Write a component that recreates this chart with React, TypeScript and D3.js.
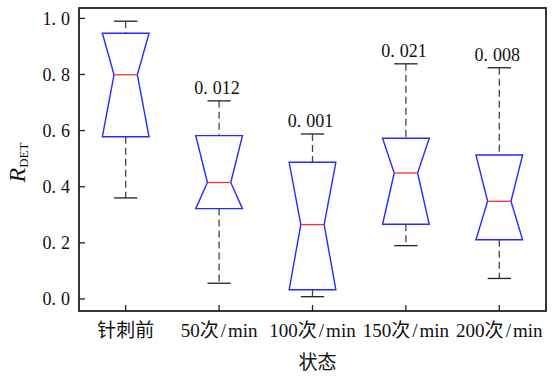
import * as d3 from "d3";
import * as React from "react";

// five states, notched box summaries
const categories = ["针刺前", "50次/min", "100次/min", "150次/min", "200次/min"];
const whiskerLow = [0.36, 0.056, 0.008, 0.19, 0.073];
const q1 = [0.578, 0.322, 0.033, 0.266, 0.211];
const median = [0.799, 0.415, 0.265, 0.449, 0.348];
const q3 = [0.947, 0.582, 0.487, 0.573, 0.513];
const whiskerHigh = [0.99, 0.706, 0.588, 0.838, 0.824];
const pLabels = ["", "0.012", "0.001", "0.021", "0.008"];
const yTicks = [0, 0.2, 0.4, 0.6, 0.8, 1.0];

const width = 555;
const height = 376;
const margin = { top: 8, right: 9, bottom: 65, left: 79 };
const font = "'Liberation Serif', 'Noto Sans CJK SC', serif";

// the source font sets a wide full stop; fake it with a gap after the dot
function Num({ s }: { s: string }) {
    const [a, b] = s.split(".");
    return <>{a}.<tspan dx={5}>{b}</tspan></>;
}

// "50次/min" -> slash with a little air around it
function Cat({ s }: { s: string }) {
    const [a, b] = s.split("/");
    if (b === undefined) return <>{s}</>;
    return <>{a}<tspan dx={2}>/</tspan><tspan dx={2}>{b}</tspan></>;
}

export default function App() {
    const x = d3.scalePoint<string>()
        .domain(categories)
        .range([margin.left, width - margin.right])
        .padding(0.5);
    const y = d3.scaleLinear()
        .domain([-0.043, 1.037])
        .range([height - margin.bottom, margin.top]);

    const step = x.step();
    const half = step * 0.25;
    const notch = half * 0.5;
    const cap = step * 0.125;
    const x0 = margin.left, x1 = width - margin.right;
    const y0 = margin.top, y1 = height - margin.bottom;

    const boxes = categories.map((c, i) => ({
        c, cx: x(c)!, lo: whiskerLow[i], q1: q1[i], med: median[i], q3: q3[i], hi: whiskerHigh[i], p: pLabels[i],
    }));

    return (
        <svg width={width} height={height} style={{ position: "absolute", left: 0, top: 0, background: "#fff" }}
            fontFamily={font}>
            {boxes.map(b => {
                const pts: [number, number][] = [
                    [b.cx - half, y(b.q3)], [b.cx + half, y(b.q3)],
                    [b.cx + notch, y(b.med)], [b.cx + half, y(b.q1)],
                    [b.cx - half, y(b.q1)], [b.cx - notch, y(b.med)],
                ];
                return (
                    <g key={b.c}>
                        <line x1={b.cx} x2={b.cx} y1={y(b.hi)} y2={y(b.q3)} stroke="#444" strokeWidth={1.3} strokeDasharray="7,4" />
                        <line x1={b.cx} x2={b.cx} y1={y(b.q1)} y2={y(b.lo)} stroke="#444" strokeWidth={1.3} strokeDasharray="7,4" />
                        <line x1={b.cx - cap} x2={b.cx + cap} y1={y(b.hi)} y2={y(b.hi)} stroke="#222" strokeWidth={1.3} />
                        <line x1={b.cx - cap} x2={b.cx + cap} y1={y(b.lo)} y2={y(b.lo)} stroke="#222" strokeWidth={1.3} />
                        <polygon points={pts.map(p => p.join(",")).join(" ")} fill="none" stroke="#2828ff" strokeWidth={1.4} />
                        <line x1={b.cx - notch} x2={b.cx + notch} y1={y(b.med)} y2={y(b.med)} stroke="#ff3030" strokeWidth={1.3} />
                        {b.p && (
                            <text x={b.cx - 2} y={y(b.hi) - 7} textAnchor="middle" fontSize={18} fill="#111"><Num s={b.p} /></text>
                        )}
                    </g>
                );
            })}

            {/* frame */}
            <rect x={x0} y={y0} width={x1 - x0} height={y1 - y0} fill="none" stroke="#222" strokeWidth={1.8} />

            {/* y axis */}
            {yTicks.map(t => (
                <g key={t}>
                    <line x1={x0} x2={x0 + 6} y1={y(t)} y2={y(t)} stroke="#222" strokeWidth={1.3} />
                    <text x={x0 - 9} y={y(t)} dy="0.35em" textAnchor="end" fontSize={18} fill="#111">
                        <Num s={d3.format(".1f")(t)} />
                    </text>
                </g>
            ))}

            {/* x axis */}
            {categories.map(c => (
                <g key={c}>
                    <line x1={x(c)!} x2={x(c)!} y1={y1} y2={y1 - 6} stroke="#222" strokeWidth={1.3} />
                    <text x={x(c)!} y={y1 + 26} textAnchor="middle" fontSize={19} fill="#111"><Cat s={c} /></text>
                </g>
            ))}

            <text x={(x0 + x1) / 2 + 5} y={369} textAnchor="middle" fontSize={19} fill="#111">状态</text>

            <text transform={`translate(25,${(y0 + y1) / 2 + 3}) rotate(-90)`} textAnchor="middle" fill="#111">
                <tspan fontSize={24} fontStyle="italic">R</tspan>
                <tspan fontSize={13} dy={3}>DET</tspan>
            </text>
        </svg>
    );
}
